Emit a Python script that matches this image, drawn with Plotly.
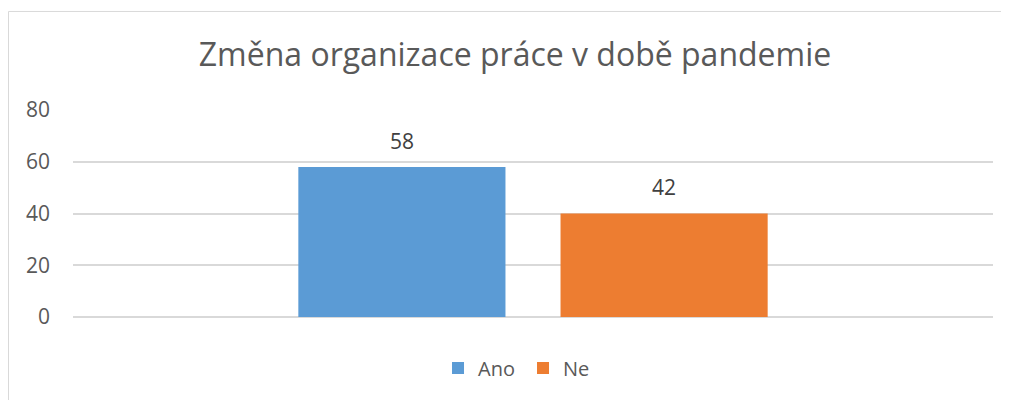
# -*- coding: utf-8 -*-
import plotly.graph_objects as go

# | data section |
category = [""]
series_names = ["Ano", "Ne"]
series_values = [58, 40]
series_labels = ["58", "42"]
series_colors = ["#5B9BD5", "#ED7D31"]
y_ticks = [0, 20, 40, 60, 80]
chart_title = "Změna organizace práce v době pandemie"

# | graph section |
fig = go.Figure()

for name, value, color in zip(series_names, series_values, series_colors):
    fig.add_trace(
        go.Bar(
            x=category,
            y=[value],
            name=name,
            marker={"color": color, "line": {"width": 0}},
            hoverinfo="skip",
        )
    )

# data labels : grouped scatter traces sitting on top of the bars
for name, value, label in zip(series_names, series_values, series_labels):
    fig.add_trace(
        go.Scatter(
            x=category,
            y=[value],
            mode="markers+text",
            text=[label],
            textposition="top center",
            textfont={"family": "Open Sans", "size": 21, "color": "#404040"},
            marker={"size": 19, "color": "rgba(0,0,0,0)"},
            showlegend=False,
            cliponaxis=False,
            hoverinfo="skip",
        )
    )

fig.update_layout(
    width=1001,
    height=392,
    margin={"l": 65, "r": 16, "t": 102, "b": 83},
    paper_bgcolor="white",
    plot_bgcolor="white",
    barmode="group",
    bargap=0.43,
    bargroupgap=0.21,
    scattermode="group",
    scattergap=0.43,
    title={
        "text": chart_title,
        "x": 0.5065,
        "xanchor": "center",
        "y": 0.88,
        "yanchor": "middle",
        "font": {"family": "Open Sans", "size": 32, "color": "#595959"},
    },
    legend={
        "orientation": "h",
        "xref": "container",
        "yref": "container",
        "x": 0.5145,
        "xanchor": "center",
        "y": 0.0816,
        "yanchor": "middle",
        "entrywidth": 40,
        "font": {"family": "Open Sans", "size": 20, "color": "#595959"},
    },
    xaxis={"showticklabels": False, "showgrid": False, "zeroline": False},
    yaxis={
        "range": [0, 80],
        "tickvals": y_ticks,
        "showgrid": True,
        "gridcolor": "#D9D9D9",
        "gridwidth": 1.5,
        "zeroline": True,
        "zerolinecolor": "#D9D9D9",
        "zerolinewidth": 1.5,
        "ticklabelstandoff": 22,
        "tickfont": {"family": "Open Sans", "size": 21, "color": "#595959"},
    },
    shapes=[
        {
            "type": "rect",
            "xref": "paper",
            "yref": "paper",
            "x0": -0.0701,
            "x1": 1.05,
            "y0": -0.48,
            "y1": 1.476,
            "line": {"color": "#D9D9D9", "width": 1},
            "fillcolor": "rgba(0,0,0,0)",
        }
    ],
)

fig.write_html("out.html")
